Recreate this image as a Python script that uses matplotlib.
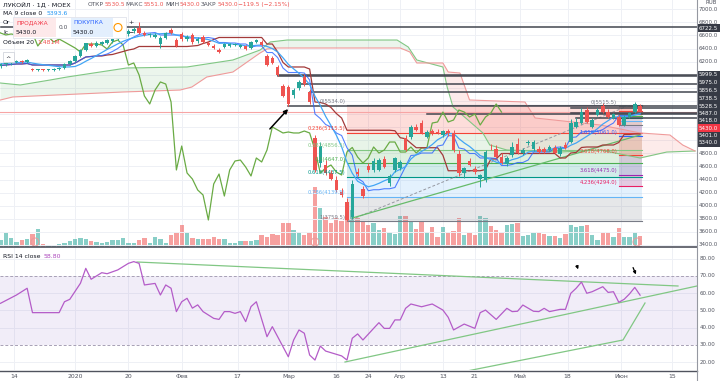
import numpy as np
import pandas as pd
import matplotlib
matplotlib.use("Agg")
import matplotlib.pyplot as plt
from matplotlib.patches import Rectangle, Ellipse

plt.rcParams['font.family'] = ['DejaVu Sans']

# ---------------- data (daily LKOH, MOEX) ----------------
opens = [6134, 6165, 6180, 6195, 6210, 6195, 6088, 6073, 6073, 6073,
         6073, 6088, 6104, 6165, 6210, 6287, 6378, 6470, 6440, 6470,
         6485, 6516, 6546, 6592, 6623, 6669, 6715, 6638, 6608, 6577,
         6470, 6562, 6684, 6531, 6623, 6546, 6608, 6516, 6577, 6485,
         6440, 6378, 6424, 6440, 6455, 6424, 6440, 6409, 6501, 6501,
         6287, 6256, 6119, 5829, 5813, 5691, 5798, 5966, 5737, 5034,
         4652, 4622, 4500, 4393, 4210, 4057, 3828, 4515, 4255, 4607,
         4546, 4546, 4714, 4347, 4546, 4576, 5034, 5050, 5202, 5263,
         5050, 5141, 5126, 5080, 5141, 5111, 4790, 4500, 4683, 4561,
         4408, 4393, 4897, 4866, 4744, 4637, 4775, 4943, 4805, 4958,
         4866, 4866, 4866, 4851, 4882, 4790, 4927, 4973, 5202, 5263,
         5462, 5202, 5386, 5523, 5431, 5340, 5355, 5233, 5355, 5431,
         5530.5]
highs = [6180, 6195, 6210, 6226, 6226, 6241, 6104, 6088, 6088, 6088,
         6104, 6119, 6180, 6226, 6302, 6394, 6485, 6501, 6516, 6516,
         6546, 6562, 6608, 6653, 6699, 6730, 6806, 6669, 6638, 6638,
         6592, 6653, 6715, 6562, 6653, 6608, 6638, 6577, 6608, 6516,
         6470, 6409, 6485, 6485, 6485, 6470, 6455, 6516, 6546, 6531,
         6317, 6287, 6149, 5859, 5844, 5798, 5920, 6012, 5783, 5080,
         4973, 4698, 4546, 4454, 4271, 4118, 4393, 4576, 4301, 4652,
         4729, 4729, 4759, 4484, 4744, 4698, 5080, 5233, 5248, 5309,
         5157, 5172, 5172, 5157, 5172, 5157, 4851, 4591, 4729, 4607,
         4484, 4851, 4943, 4927, 4805, 4759, 4973, 5034, 4882, 5004,
         5004, 4912, 4897, 4927, 4927, 4912, 4973, 5325, 5340, 5493,
         5508, 5340, 5493, 5569, 5477, 5416, 5386, 5386, 5431, 5584,
         5551]
lows = [6104, 6134, 6149, 6180, 6180, 6180, 6058, 6058, 6058, 6058,
        6058, 6073, 6088, 6149, 6195, 6272, 6363, 6424, 6424, 6455,
        6470, 6485, 6531, 6577, 6592, 6638, 6623, 6592, 6577, 6562,
        6409, 6546, 6623, 6424, 6516, 6516, 6470, 6485, 6485, 6440,
        6394, 6333, 6409, 6424, 6440, 6409, 6378, 6394, 6485, 6440,
        6134, 6165, 5981, 5661, 5523, 5645, 5767, 5829, 5554, 4515,
        4591, 4469, 4393, 4210, 4133, 3759.5, 3797, 4454, 4118, 4515,
        4515, 4530, 4576, 4301, 4515, 4546, 4836, 5019, 5141, 5095,
        5034, 5080, 5095, 5050, 5065, 4820, 4454, 4423, 4607, 4484,
        4286, 4362, 4851, 4729, 4637, 4607, 4744, 4790, 4775, 4927,
        4836, 4805, 4805, 4836, 4790, 4759, 4866, 4958, 5187, 5248,
        5263, 5187, 5370, 5416, 5340, 5325, 5218, 5218, 5340, 5416,
        5430]
closes = [6165, 6180, 6195, 6210, 6195, 6226, 6073, 6073, 6070, 6073,
          6088, 6104, 6165, 6210, 6287, 6378, 6485, 6440, 6485, 6501,
          6531, 6546, 6592, 6638, 6669, 6699, 6638, 6608, 6623, 6608,
          6562, 6638, 6638, 6440, 6546, 6577, 6501, 6546, 6501, 6455,
          6409, 6348, 6470, 6470, 6470, 6455, 6394, 6501, 6531, 6455,
          6149, 6180, 5997, 5676, 5554, 5767, 5890, 5859, 5584, 4546,
          4912, 4500, 4408, 4240, 4164, 3782, 4332, 4484, 4148, 4546,
          4683, 4698, 4591, 4454, 4729, 4668, 4851, 5202, 5157, 5111,
          5126, 5111, 5111, 5141, 5111, 4851, 4500, 4576, 4622, 4515,
          4469, 4820, 4890, 4744, 4652, 4729, 4897, 4805, 4851, 4973,
          4973, 4820, 4820, 4897, 4805, 4882, 4882, 5263, 5279, 5431,
          5279, 5309, 5462, 5431, 5355, 5401, 5233, 5355, 5416, 5554,
          5430]
volumes = [0.84, 1.68, 1.08, 0.6, 0.84, 0.96, 1.56, 2.16, 0.36, 0.24,
           0.12, 0.36, 0.48, 0.72, 0.96, 1.08, 0.96, 0.72, 0.6, 0.48,
           0.6, 0.84, 0.84, 1.08, 0.48, 0.48, 0.84, 1.08, 0.48, 1.2,
           0.96, 0.48, 1.44, 1.68, 2.64, 1.68, 1.08, 0.96, 0.96, 0.96,
           1.2, 0.96, 0.96, 0.48, 0.48, 0.72, 0.72, 0.72, 0.84, 1.44,
           1.2, 1.56, 1.44, 2.88, 2.88, 2.04, 1.8, 1.44, 1.68, 7.2,
           4.68, 3.6, 2.88, 3.48, 3.12, 5.4, 4.44, 3.48, 3.0, 2.64,
           2.88, 2.04, 2.28, 1.8, 1.56, 3.72, 3.72, 3.0, 2.16, 3.0,
           1.8, 2.4, 1.2, 2.4, 1.68, 1.92, 3.48, 1.44, 1.68, 1.44,
           3.72, 3.48, 2.52, 2.04, 1.68, 2.64, 2.76, 2.88, 1.32, 1.44,
           1.68, 1.68, 1.56, 1.32, 1.32, 1.08, 1.56, 2.64, 2.4, 2.52,
           2.64, 1.44, 0.84, 1.68, 1.68, 1.2, 2.28, 1.2, 1.2, 1.8,
           1.32]

# RSI 14 line, read as vertices (bar, value)
rsi_bar = [0, 3, 5, 6, 11, 12, 13, 15, 16, 17, 19, 20, 22, 24, 25, 26, 27, 29, 30, 31,
           32, 33, 34, 35, 36, 37, 38, 40, 41, 42, 43, 44, 45, 46, 47, 48, 50, 51, 53, 54,
           55, 56, 57, 58, 59, 60, 61, 64, 65, 66, 67, 68, 70, 71, 72, 73, 74, 75, 76, 77,
           79, 81, 83, 84, 85, 87, 89, 90, 91, 93, 95, 96, 97, 98, 100, 101, 102, 103, 105, 106,
           107, 108, 109, 110, 111, 113, 114, 115, 116, 117, 118, 119, 120]
rsi_val = [54.1, 58.9, 62.8, 48.7, 48.7, 55.0, 56.4, 65.7, 74.3, 68.0, 71.8, 71.2, 73.4, 77.2, 78.2, 77.2, 64.7, 65.6, 58.9, 64.7,
           62.8, 49.3, 55.0, 57.0, 51.3, 53.2, 49.3, 45.4, 44.8, 49.3, 49.3, 48.3, 49.3, 43.5, 52.2, 55.0, 34.8, 40.6, 29.0, 23.2,
           32.9, 38.7, 36.8, 24.2, 21.3, 29.4, 26.5, 23.7, 21.3, 33.9, 36.4, 32.9, 39.6, 42.9, 39.6, 39.6, 44.5, 44.5, 51.2, 53.7,
           52.1, 53.7, 50.2, 46.0, 38.7, 42.1, 39.6, 48.7, 50.2, 44.8, 51.2, 49.3, 49.5, 53.1, 49.5, 49.3, 51.2, 49.3, 50.6, 50.6,
           59.9, 62.8, 66.4, 59.9, 60.8, 63.7, 60.4, 60.8, 54.7, 56.4, 59.5, 63.3, 58.8]

# Ichimoku leading spans (shifted 26 bars forward), read as vertices
span_a_bar = [0, 3.7, 9.3, 12.5, 23.7, 35, 39.9, 43.6, 48.7, 50.6, 53.8, 74.4, 76.5, 78.1, 83, 83.8,
              84.9, 90.5, 91.8, 95, 105, 112.5, 120, 125, 130.3]
span_a = [5874, 5844, 5920, 5966, 6104, 6119, 6180, 6226, 6378, 6501, 6531, 6531, 6424, 6226, 6119, 5813,
          5508, 5111, 4927, 4851, 4820, 4851, 4729, 4820, 4836]
span_b_bar = [0, 2.3, 23, 33.7, 35.9, 38.7, 43.6, 48.7, 50, 51.9, 75, 76.8, 78.1, 83, 84, 86.2,
              88, 98.4, 100.3, 112.5, 120, 125.6, 128, 130.3]
span_b = [5615, 5661, 5737, 5767, 5813, 5966, 6042, 6333, 6394, 6409, 6409, 6348, 6180, 6180, 6042, 6027,
          5615, 5584, 5340, 5233, 5111, 5080, 4927, 4836]

# time axis
date_bar = [2.6, 14, 24, 34, 44.5, 54, 63, 69, 75, 83, 89, 97.4, 106.4, 116.5, 126]
date_lbl = ["14", "2020", "20", "Фев", "17", "Мар", "16", "24", "Апр", "13", "21", "Май", "18", "Июн", "15"]

# user horizontal rays: price and first bar
ray_price = [6722.5, 5999.5, 5975.0, 5856.5, 5738.5, 5528.5, 5487.0, 5418.0, 5401.0, 5340.0]
ray_start = [0, 52, 52, 56, 58, 54, 107, 107, 80, 108]
last_price = 5430.0

# fib retracement 1 (from the March low)
fib1_lvl = ["0", "0.236", "0.382", "0.5", "0.618", "0.786", "1"]
fib1_px = [5534.0, 5115.5, 4856.5, 4647.0, 4437.5, 4139.5, 3759.5]
fib1_col = ["#787b86", "#f44336", "#81c784", "#4caf50", "#009688", "#64b5f6", "#787b86"]
# fib 2 (small, on the right)
fib2_lvl = ["0", "0.236", "0.382", "0.5", "0.618", "0.786", "1", "1.618", "2.618", "3.618", "4.236"]
fib2_px = [5515.5, 5447.4, 5405.3, 5371.3, 5337.2, 5288.8, 5227.1, 5061.0, 4768.0, 4475.0, 4294.0]
fib2_col = ["#787b86", "#f44336", "#81c784", "#4caf50", "#009688", "#64b5f6", "#787b86",
            "#2962ff", "#f44336", "#9c27b0", "#e91e63"]

price_grid = list(range(3400, 7001, 200))
price_lbl = [7000, 6800, 6600, 6400, 6200, 4800, 4600, 4400, 4200, 4000, 3800, 3600, 3400]
rsi_ticks = [80, 70, 60, 50, 40, 30, 20]

# ---------------- layout helpers (pixels of the 720x381 picture) ----------------
W, H = 720, 381
STEP, X0 = 5.33, 0.5


def frect(x0, y0, x1, y1):
    return [x0 / W, 1 - y1 / H, (x1 - x0) / W, (y1 - y0) / H]


def pbar(x):
    return (x - X0) / STEP


def pprice(y):
    return 3400 + (245 - y) * 15.274


def prsi(y):
    return 30 + (345 - y) / 1.73


def ftext(x, y, s, **kw):
    kw.setdefault("fontsize", 5)
    kw.setdefault("va", "center")
    return fig.text(x / W, 1 - y / H, s, **kw)


fig = plt.figure(figsize=(7.2, 3.81), dpi=100)
fig.patch.set_facecolor("white")
renderer = fig.canvas.get_renderer()


def seq_text(x, y, parts, size=4.4, gap=1.0):
    # draw text chunks one after another on a line
    for s, col in parts:
        t = ftext(x, y, s, color=col, fontsize=size)
        x += t.get_window_extent(renderer).width + gap
    return x


ax_vol = fig.add_axes(frect(0, 0, 697, 247))
ax = fig.add_axes(frect(0, 0, 697, 247))
ax_rsi = fig.add_axes(frect(0, 248, 697, 370))
for a in (ax_vol, ax, ax_rsi):
    a.set_xlim(pbar(0), pbar(697))
    a.set_xticks([])
    a.set_yticks([])
    for s in a.spines.values():
        s.set_visible(False)
ax.patch.set_visible(False)
ax.set_ylim(pprice(247), pprice(0))
ax_vol.set_ylim(0, 247 * 0.12)
ax_rsi.set_ylim(prsi(370), prsi(248))

n = len(closes)
bars = np.arange(n)
o = np.array(opens, float)
h = np.array(highs, float)
l = np.array(lows, float)
c = np.array(closes, float)
up = c >= o

# grid
grid_c = "#eef0f5"
for xb in date_bar:
    ax_vol.axvline(xb, color=grid_c, lw=0.7, zorder=0)
    ax_rsi.axvline(xb, color=grid_c, lw=0.7, zorder=0)
for p in price_grid:
    ax.axhline(p, color=grid_c, lw=0.7, zorder=0)

# volume
vcol = np.where(up, "#26a69a", "#ef5350")
ax_vol.bar(bars, volumes, width=0.82, color=vcol, alpha=0.55, zorder=2, linewidth=0)

# ichimoku cloud
xs = np.linspace(0, pbar(697), 900)
ya = np.interp(xs, span_a_bar, span_a)
yb = np.interp(xs, span_b_bar, span_b)
ax.fill_between(xs, ya, yb, where=ya >= yb, interpolate=True, color="#43a047", alpha=0.1, lw=0, zorder=1)
ax.fill_between(xs, ya, yb, where=ya < yb, interpolate=True, color="#f44336", alpha=0.1, lw=0, zorder=1)
ax.plot(span_a_bar, span_a, color="#81c784", lw=0.8, zorder=2)
ax.plot(span_b_bar, span_b, color="#ef9a9a", lw=0.8, zorder=2)

# fib 1 zones
f1a, f1b = 65, 120.4
for k in range(1, len(fib1_px)):
    ax.add_patch(Rectangle((f1a, fib1_px[k]), f1b - f1a, fib1_px[k - 1] - fib1_px[k],
                           color=fib1_col[k], alpha=0.18, lw=0, zorder=1.5))
for k, p in enumerate(fib1_px):
    ax.plot([f1a, f1b], [p, p], color=fib1_col[k], lw=0.8, zorder=1.6)
    ax.text(f1a - 0.3, p + 25, "%s(%.1f)" % (fib1_lvl[k], p), color=fib1_col[k],
            fontsize=3.8, ha="right", va="bottom", zorder=5)
ax.plot([65, 118], [fib1_px[-1], fib1_px[0]], color="#9598a1", lw=0.7, ls=(0, (3, 2)), zorder=2)

# fib 2 zones
f2a, f2b = 116, 120.4
for k in range(1, len(fib2_px)):
    ax.add_patch(Rectangle((f2a, fib2_px[k]), f2b - f2a, fib2_px[k - 1] - fib2_px[k],
                           color=fib2_col[k], alpha=0.18, lw=0, zorder=1.5))
for k, p in enumerate(fib2_px):
    ax.plot([f2a, f2b], [p, p], color=fib2_col[k], lw=0.8, zorder=1.6)
    if k == 0 or k >= 7:
        ax.text(f2a - 0.3, p + 20, "%s(%.1f)" % (fib2_lvl[k], p), color=fib2_col[k],
                fontsize=3.8, ha="right", va="bottom", zorder=5)

# green trend line in the price pane
ax.plot([66, 120], [pprice(218), pprice(135)], color="#66bb6a", lw=0.9, zorder=2)

# user rays and last price line
for p, s in zip(ray_price, ray_start):
    ax.plot([s, pbar(697)], [p, p], color="#43464f", lw=1.1, zorder=2.5)
ax.axhline(last_price, color="#f7a5a5", lw=0.8, zorder=2.4)

# ichimoku conversion/base/lagging + MA 9
cs = pd.Series(c)
ma9 = cs.rolling(9, min_periods=1).mean()
tenkan = (pd.Series(h).rolling(9, min_periods=1).max() + pd.Series(l).rolling(9, min_periods=1).min()) / 2
kijun = (pd.Series(h).rolling(26, min_periods=1).max() + pd.Series(l).rolling(26, min_periods=1).min()) / 2
ax.plot(bars - 26, c, color="#6aab45", lw=0.9, zorder=3)
ax.plot(bars, kijun, color="#a33a3a", lw=0.9, zorder=3)
ax.plot(bars, tenkan, color="#2962ff", lw=0.8, alpha=0.8, zorder=3)
ax.plot(bars, ma9, color="#42a5f5", lw=0.9, zorder=3)

# candles
ccol = np.where(up, "#26a69a", "#ef5350")
ax.vlines(bars, l, h, colors=ccol, lw=0.7, zorder=4)
for i in range(n):
    lo, hi = min(o[i], c[i]), max(o[i], c[i])
    ax.add_patch(Rectangle((i - 0.33, lo), 0.66, max(hi - lo, 12), color=ccol[i], lw=0, zorder=4.1))

# arrow in price pane
ax.annotate("", xy=(pbar(290), pprice(107)), xytext=(pbar(268), pprice(131)),
            arrowprops=dict(arrowstyle="-|>", color="black", lw=1.1, mutation_scale=6), zorder=6)

# event markers at the bottom of the price pane
for xm in (35, 315, 637):
    fig.add_artist(Ellipse((xm / W, 1 - 242 / H), 8 / W, 8 / H, fill=False, ec="#e99a9a", lw=0.7,
                           transform=fig.transFigure))

# ---------------- RSI ----------------
ax_rsi.axhspan(30, 70, color="#7e57c2", alpha=0.1, lw=0, zorder=0.5)
for r in (80, 60, 50, 40, 20):
    ax_rsi.axhline(r, color=grid_c, lw=0.7, zorder=0)
for r in (70, 30):
    ax_rsi.axhline(r, color="#a7a0b5", lw=0.7, ls=(0, (3, 2)), zorder=1)
ax_rsi.plot(rsi_bar, rsi_val, color="#b45cc8", lw=0.9, zorder=3)
# RSI trend lines
ax_rsi.plot([pbar(137), pbar(678)], [prsi(262), prsi(286)], color="#81c784", lw=0.9, zorder=2)
ax_rsi.plot([pbar(345), pbar(697)], [prsi(362), prsi(286)], color="#81c784", lw=0.9, zorder=2)
ax_rsi.plot([pbar(457), pbar(623), pbar(645)], [prsi(373), prsi(340), prsi(303)], color="#81c784", lw=0.9,
            zorder=2)
for (x1, y1, x2, y2) in ((576, 263, 579, 272), (632, 265, 637, 277)):
    ax_rsi.annotate("", xy=(pbar(x2), prsi(y2)), xytext=(pbar(x1), prsi(y1)),
                    arrowprops=dict(arrowstyle="-|>", color="black", lw=0.9, mutation_scale=4))

# ---------------- frames / axes ----------------
fig.add_artist(plt.Line2D([0, 697 / W], [1 - 247.5 / H] * 2, color="#50535e", lw=1.2))
fig.add_artist(plt.Line2D([0, 697 / W], [1 - 370.5 / H] * 2, color="#50535e", lw=1.0))
fig.add_artist(plt.Line2D([697 / W] * 2, [0, 1], color="#9598a1", lw=0.8))

# price labels on the right axis
for p in price_lbl:
    y = 245 - (p - 3400) / 15.274
    ftext(699, y, "%.1f" % p, color="#50535e", fontsize=4.0)
ftext(706, 3, "RUB", color="#50535e", fontsize=4.0)
box_y = [28, 75, 82.5, 90, 98, 106, 113.5, 121, 128, 135.5, 143]
box_v = [6722.5, 5999.5, 5975.0, 5856.5, 5738.5, 5528.5, 5487.0, 5418.0, 5430.0, 5401.0, 5340.0]
for yb_, v in zip(box_y, box_v):
    col = "#f23645" if v == last_price else "#363a45"
    fig.add_artist(Rectangle((697.5 / W, 1 - (yb_ + 3.6) / H), 22.5 / W, 7.2 / H, color=col, lw=0,
                             transform=fig.transFigure))
    ftext(699, yb_, "%.1f" % v, color="white", fontsize=4.0)

for r in rsi_ticks:
    y = 345 - (r - 30) * 1.73
    ftext(700, y, "%.2f" % r, color="#50535e", fontsize=4.0)

for xb, s in zip(date_bar, date_lbl):
    xp = X0 + STEP * xb
    ftext(xp, 376.5, s, color="#50535e", fontsize=4.4, ha="center")

# ---------------- legends ----------------
seq_text(3, 4.5, [("ЛУКОЙЛ · 1Д · MOEX", "#131722")], size=4.6)
seq_text(88, 4.5, [("ОТКР", "#50535e"), ("5530.5", "#ef5350"), ("МАКС", "#50535e"), ("5551.0", "#ef5350"),
                   ("МИН", "#50535e"), ("5430.0", "#ef5350"), ("ЗАКР", "#50535e"), ("5430.0", "#ef5350"),
                   ("−119.5 (−2.15%)", "#ef5350")], size=4.2, gap=0.6)
seq_text(3, 13.5, [("MA 9 close 0", "#131722"), ("5393.6", "#2196f3")], size=4.4, gap=4)
ftext(3, 22.5, "Or", color="#131722", fontsize=4.4)
ftext(3, 32.5, "Ic", color="#131722", fontsize=4.4)
seq_text(3, 43, [("Объем 20", "#131722"), ("1.481M", "#ef5350")], size=4.4, gap=3)
seq_text(3, 256, [("RSI 14 close", "#131722"), ("58.80", "#ab47bc")], size=4.4, gap=3)

# buy/sell widget
fig.add_artist(Rectangle((13 / W, 1 - 38 / H), 113 / W, 21 / H, fc="white", ec="#e0e3eb", lw=0.6,
                         transform=fig.transFigure))
fig.add_artist(Rectangle((14 / W, 1 - 37 / H), 42 / W, 19 / H, fc="#fde9ea", lw=0, transform=fig.transFigure))
fig.add_artist(Rectangle((71 / W, 1 - 37 / H), 42 / W, 19 / H, fc="#e3effd", lw=0, transform=fig.transFigure))
ftext(16, 23, "ПРОДАЖА", color="#f23645", fontsize=4.2)
ftext(16, 32, "5430.0", color="#131722", fontsize=4.4)
ftext(59, 27.5, "0.0", color="#50535e", fontsize=4.2)
ftext(73, 23, "ПОКУПКА", color="#2962ff", fontsize=4.2)
ftext(73, 32, "5430.0", color="#131722", fontsize=4.4)
fig.add_artist(Ellipse((118 / W, 1 - 27.5 / H), 8 / W, 8 / H, fc="white", ec="#ff9800", lw=0.8,
                       transform=fig.transFigure))
ftext(128, 23, "+", color="#131722", fontsize=4.6)
ftext(128, 32, "−", color="#131722", fontsize=4.6)
fig.add_artist(Rectangle((3 / W, 1 - 62 / H), 11 / W, 10 / H, fc="white", ec="#d1d4dc", lw=0.6,
                         transform=fig.transFigure))
ftext(5.5, 58, "^", color="#131722", fontsize=4.6)

fig.savefig("out.png", dpi=100, facecolor="white")
